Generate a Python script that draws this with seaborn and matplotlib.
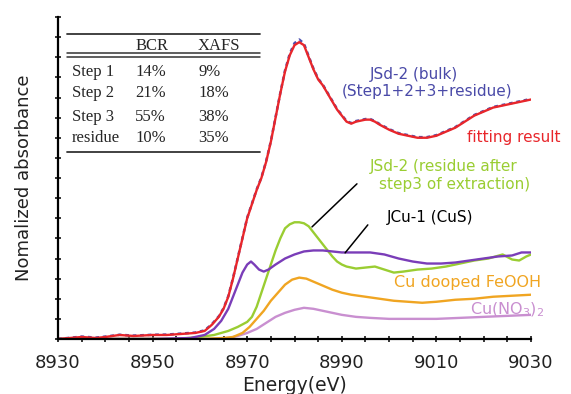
import matplotlib
matplotlib.use("Agg")
import matplotlib.pyplot as plt
from matplotlib.ticker import MultipleLocator, FixedLocator, NullFormatter
import seaborn as sns

# fitting result (red) and measured bulk (blue dashed underneath)
fit_e = [8930, 8935, 8938, 8940, 8943, 8946, 8950, 8953, 8956, 8959, 8961, 8962.5,
         8964, 8965, 8966, 8967, 8968, 8969, 8970, 8971, 8972, 8973, 8974, 8975,
         8976, 8977, 8978, 8979, 8980, 8981, 8982, 8983, 8984, 8985, 8986, 8987,
         8988, 8989, 8990, 8991, 8992, 8993, 8994, 8995, 8996, 8997, 8998, 9000,
         9002, 9004, 9006, 9008, 9010, 9012, 9014, 9016, 9018, 9020, 9022, 9024,
         9026, 9028, 9030]
fit_a = [0.00, 0.01, 0.005, 0.01, 0.02, 0.015, 0.02, 0.02, 0.025, 0.03, 0.04, 0.07,
         0.11, 0.15, 0.21, 0.30, 0.40, 0.50, 0.60, 0.67, 0.74, 0.80, 0.88, 0.98,
         1.10, 1.22, 1.33, 1.41, 1.46, 1.475, 1.46, 1.40, 1.34, 1.29, 1.26, 1.22,
         1.18, 1.14, 1.11, 1.08, 1.07, 1.08, 1.085, 1.09, 1.09, 1.08, 1.065, 1.04,
         1.02, 1.01, 1.00, 1.00, 1.01, 1.03, 1.05, 1.08, 1.11, 1.13, 1.15, 1.16,
         1.17, 1.18, 1.19]
bulk_a = [0.00, 0.012, 0.007, 0.012, 0.021, 0.017, 0.021, 0.022, 0.027, 0.032, 0.043, 0.073,
          0.113, 0.153, 0.213, 0.303, 0.403, 0.503, 0.603, 0.673, 0.743, 0.803, 0.883, 0.983,
          1.103, 1.223, 1.335, 1.418, 1.47, 1.488, 1.468, 1.405, 1.344, 1.294, 1.263, 1.223,
          1.183, 1.143, 1.113, 1.083, 1.073, 1.083, 1.088, 1.093, 1.093, 1.083, 1.068, 1.043,
          1.023, 1.013, 1.003, 1.003, 1.013, 1.033, 1.053, 1.083, 1.113, 1.133, 1.153, 1.163,
          1.173, 1.183, 1.193]

# JCu-1 (CuS)
cus_e = [8930, 8950, 8958, 8961, 8963, 8964.5, 8966, 8967, 8968, 8969, 8970, 8970.8,
         8971.5, 8972.5, 8973.5, 8974.5, 8976, 8978, 8980, 8982, 8984, 8986, 8988, 8990,
         8993, 8996, 8999, 9002, 9005, 9008, 9011, 9014, 9017, 9020, 9023, 9026, 9028, 9030]
cus_a = [0.0, 0.0, 0.005, 0.02, 0.05, 0.09, 0.15, 0.21, 0.27, 0.33, 0.37, 0.385,
         0.37, 0.345, 0.335, 0.345, 0.37, 0.40, 0.42, 0.435, 0.44, 0.44, 0.435, 0.43,
         0.43, 0.43, 0.42, 0.40, 0.385, 0.375, 0.375, 0.38, 0.39, 0.40, 0.41, 0.415, 0.43, 0.43]

# JSd-2 residue after step 3
res_e = [8930, 8955, 8960, 8963, 8966, 8968, 8970, 8971, 8972, 8973, 8974, 8975,
         8976, 8977, 8978, 8979, 8980, 8981, 8982, 8983, 8984, 8985, 8986, 8987,
         8988, 8989, 8990, 8991, 8993, 8995, 8997, 8999, 9001, 9003, 9006, 9009,
         9012, 9015, 9018, 9021, 9024, 9026, 9027.5, 9029, 9030]
res_a = [0.0, 0.0, 0.01, 0.02, 0.04, 0.06, 0.085, 0.11, 0.16, 0.23, 0.30, 0.37,
         0.44, 0.50, 0.55, 0.57, 0.58, 0.58, 0.575, 0.56, 0.53, 0.50, 0.47, 0.44,
         0.41, 0.385, 0.37, 0.36, 0.35, 0.355, 0.36, 0.345, 0.33, 0.335, 0.345, 0.35,
         0.36, 0.375, 0.39, 0.40, 0.42, 0.395, 0.39, 0.41, 0.42]

# Cu doped FeOOH
feooh_e = [8930, 8960, 8965, 8967, 8969, 8970.5, 8972, 8973.5, 8975, 8976.5, 8978, 8979.5,
           8981, 8982.5, 8984, 8986, 8988, 8990, 8992, 8995, 8998, 9001, 9004, 9007,
           9010, 9014, 9018, 9022, 9026, 9030]
feooh_a = [0.0, 0.0, 0.005, 0.01, 0.03, 0.06, 0.10, 0.14, 0.19, 0.23, 0.27, 0.295,
           0.305, 0.30, 0.285, 0.265, 0.245, 0.23, 0.22, 0.21, 0.20, 0.19, 0.185, 0.18,
           0.185, 0.195, 0.20, 0.21, 0.215, 0.22]

# Cu(NO3)2
no3_e = [8930, 8962, 8966, 8968, 8970, 8972, 8974, 8976, 8978, 8980, 8982, 8984,
         8986, 8988, 8990, 8993, 8996, 9000, 9005, 9010, 9015, 9020, 9025, 9030]
no3_a = [0.0, 0.0, 0.005, 0.015, 0.03, 0.05, 0.08, 0.11, 0.13, 0.145, 0.155, 0.15,
         0.14, 0.13, 0.12, 0.11, 0.105, 0.10, 0.10, 0.10, 0.105, 0.11, 0.115, 0.12]

x_ticks = [8930, 8950, 8970, 8990, 9010, 9030]

# inset table
tbl_cols = ["BCR", "XAFS"]
tbl_rows = ["Step 1", "Step 2", "Step 3", "residue"]
bcr = ["14%", "21%", "55%", "10%"]
xafs = ["9%", "18%", "38%", "35%"]

sns.set_style("ticks")
plt.rcParams["font.family"] = ["DejaVu Sans"]

fig = plt.figure(figsize=(5.71, 3.94), dpi=100)
ax = fig.add_axes([58 / 571, 1 - 339 / 394, 473 / 571, 322 / 394])

RED = "#e8262b"
BLUE = "#4b4fb0"
PURPLE = "#7a3db8"
GREEN = "#9acd32"
ORANGE = "#f0a522"
PINK = "#c98fd0"

lw = 1.7
sns.lineplot(x=no3_e, y=no3_a, color=PINK, lw=lw, sort=False, ax=ax)
sns.lineplot(x=feooh_e, y=feooh_a, color=ORANGE, lw=lw, sort=False, ax=ax)
sns.lineplot(x=res_e, y=res_a, color=GREEN, lw=lw, sort=False, ax=ax)
sns.lineplot(x=cus_e, y=cus_a, color=PURPLE, lw=lw, sort=False, ax=ax)
sns.lineplot(x=fit_e, y=bulk_a, color=BLUE, lw=1.8, sort=False, ax=ax,
             linestyle=(0, (1.5, 1.5)))
sns.lineplot(x=fit_e, y=fit_a, color=RED, lw=lw, sort=False, ax=ax)

ax.set_xlim(8930, 9030)
ax.set_ylim(0, 1.6)
ax.xaxis.set_major_locator(FixedLocator(x_ticks))
ax.xaxis.set_minor_locator(MultipleLocator(5))
ax.yaxis.set_major_locator(MultipleLocator(0.1))
ax.yaxis.set_major_formatter(NullFormatter())
ax.tick_params(which="both", direction="inout", length=5, width=1.1, color="black")
ax.tick_params(axis="x", labelsize=13, pad=8, labelcolor="#222222")
sns.despine(ax=ax)
for s in ["left", "bottom"]:
    ax.spines[s].set_linewidth(1.6)
    ax.spines[s].set_color("black")

ax.set_xlabel("Energy(eV)", fontsize=13.5, labelpad=3, color="#222222")
ax.set_ylabel("Nomalized absorbance", fontsize=13, labelpad=12, color="#222222")

# curve labels
fs = 11
ax.text(9005.3, 1.313, "JSd-2 (bulk)", color="#4a4aa8", fontsize=fs, ha="center", va="center")
ax.text(9008.1, 1.229, "(Step1+2+3+residue)", color="#4a4aa8", fontsize=fs, ha="center", va="center")
ax.text(9016.5, 1.0, "fitting result", color=RED, fontsize=fs, ha="left", va="center")
ax.text(9011.6, 0.856, "JSd-2 (residue after", color=GREEN, fontsize=fs, ha="center", va="center")
ax.text(9013.9, 0.766, "step3 of extraction)", color=GREEN, fontsize=fs, ha="center", va="center")
ax.text(9008.6, 0.602, "JCu-1 (CuS)", color="black", fontsize=fs, ha="center", va="center")
ax.text(9016.5, 0.279, "Cu dooped FeOOH", color=ORANGE, fontsize=11.5, ha="center", va="center")
ax.text(9025.0, 0.145, r"Cu(NO$_3$)$_2$", color=PINK, fontsize=11.5, ha="center", va="center")

ax.plot([8993.2, 8983.7], [0.771, 0.557], color="black", lw=1.1)
ax.plot([8995.5, 8990.7], [0.567, 0.428], color="black", lw=1.1)

# inset table drawn in axes coordinates
tr = ax.transAxes
tfont = dict(family="Liberation Serif", fontsize=12, transform=tr, va="center", ha="left")
x0, x1 = 0.019, 0.427
ax.plot([x0, x1], [0.947, 0.947], color="#333333", lw=1.3, transform=tr)
ax.plot([x0, x1], [0.889, 0.889], color="#333333", lw=1.1, transform=tr)
ax.plot([x0, x1], [0.876, 0.876], color="#333333", lw=1.1, transform=tr)
ax.plot([x0, x1], [0.581, 0.581], color="#333333", lw=1.3, transform=tr)
col_x = [0.163, 0.296]
for cx, name in zip(col_x, tbl_cols):
    ax.text(cx, 0.910, name, **tfont)
row_y = [0.829, 0.764, 0.689, 0.624]
for ry, lab, b, xa in zip(row_y, tbl_rows, bcr, xafs):
    ax.text(0.0296, ry, lab, **tfont)
    ax.text(col_x[0], ry, b, **tfont)
    ax.text(col_x[1], ry, xa, **tfont)

fig.savefig("out.png", dpi=100)
